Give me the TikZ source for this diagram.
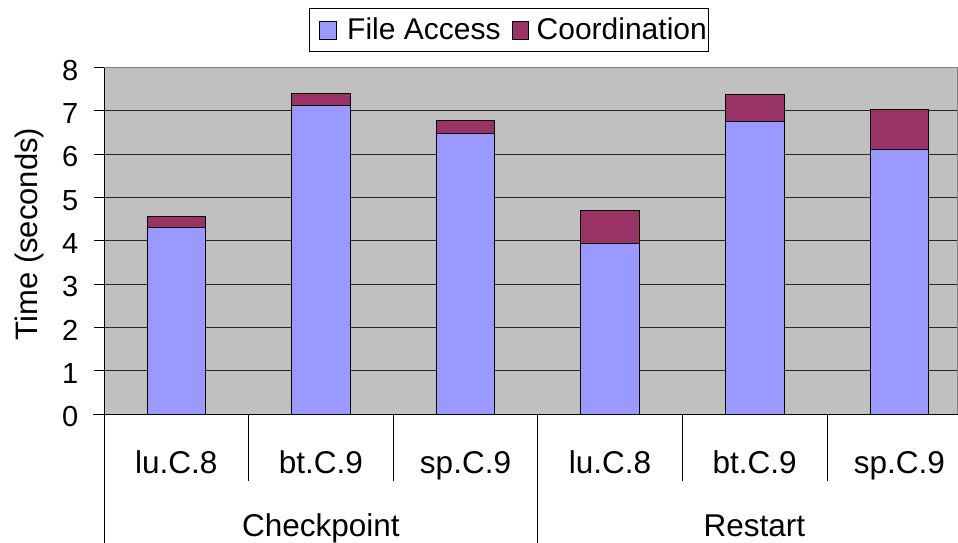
\documentclass[tikz,border=0pt]{standalone}
\usepackage{fontspec}
\setmainfont{Liberation Sans}
\definecolor{fileacc}{HTML}{9999FF}
\definecolor{coordc}{HTML}{993366}
\definecolor{plotbg}{HTML}{C0C0C0}
\definecolor{rulegray}{HTML}{808080}
\begin{document}
\begin{tikzpicture}[x=1pt,y=-1pt,
  lbl/.style={font=\fontsize{29}{34}\selectfont, inner sep=0pt},
  catlbl/.style={font=\fontsize{31.5}{36}\selectfont, inner sep=0pt},
  leglbl/.style={font=\fontsize{30}{35}\selectfont, inner sep=0pt},
  gridln/.style={draw=black!85, line width=0.9pt},
  axisln/.style={draw=black, line width=0.9pt},
  barbox/.style={draw=black, line width=1pt},
  swatch/.style={draw=black, line width=0.8pt},
]
\useasboundingbox (0,0) rectangle (958,543);
\fill[white] (0,0) rectangle (958,543);

% plot area with horizontal grid lines
\fill[plotbg] (104,67.6) rectangle (958,414);
\foreach \v in {1,...,7}
  \draw[gridln] (104,{414-43.3*\v}) -- (958,{414-43.3*\v});
\draw[rulegray, line width=0.9pt] (104,67.6) -- (958,67.6) (957.5,67.6) -- (957.5,414);

% stacked bars: file access + coordination
\foreach \i/\a/\b in {0/4.31/4.556, 1/7.12/7.40, 2/6.47/6.77,
                      3/3.94/4.71, 4/6.76/7.37, 5/6.11/7.03} {
  \pgfmathsetmacro\cx{176.3+144.6*\i}
  \filldraw[fill=fileacc, barbox] ({\cx-29.3},414) rectangle ({\cx+29.3},{414-43.3*\a});
  \filldraw[fill=coordc, barbox] ({\cx-29.3},{414-43.3*\a}) rectangle ({\cx+29.3},{414-43.3*\b});
}

% axes
\draw[axisln] (104,67.6) -- (104,543);
\draw[axisln] (93,414) -- (958,414);
\foreach \v in {0,...,8} {
  \draw[axisln] (93.5,{414-43.3*\v}) -- (104,{414-43.3*\v});
  \node[lbl, anchor=base east] (tick\v) at (78.5,{414-43.3*\v+12.7}) {\v};
}
\node[catlbl, font=\fontsize{31}{36}\selectfont, rotate=90] (ylab) at (29,234) {Time (seconds)};

% category separators and labels
\foreach \i in {1,2,4,5}
  \draw[axisln] ({104+144.6*\i},414) -- ({104+144.6*\i},481);
\draw[axisln] (537.8,414) -- (537.8,543);
\foreach \i/\t in {0/lu.C.8, 1/bt.C.9, 2/sp.C.9, 3/lu.C.8, 4/bt.C.9, 5/sp.C.9}
  \node[catlbl, anchor=base] (cat\i) at ({176.3+144.6*\i},473.5) {\t};
\node[catlbl, anchor=base] (grpckpt) at (320.9,536.5) {Checkpoint};
\node[catlbl, anchor=base] (grprst) at (754.4,536.5) {Restart};

% legend
\draw[fill=white, draw=black, line width=0.9pt] (309,8) rectangle (708,51);
\filldraw[fill=fileacc, swatch] (319.3,21.7) rectangle (336,39.3);
\node[leglbl, anchor=base west] (legfile) at (347,39.3) {File Access};
\filldraw[fill=coordc, swatch] (512,21.7) rectangle (528.7,39.3);
\node[leglbl, anchor=base west] (legcoord) at (536.5,39.3) {Coordination};
\end{tikzpicture}
\end{document}
